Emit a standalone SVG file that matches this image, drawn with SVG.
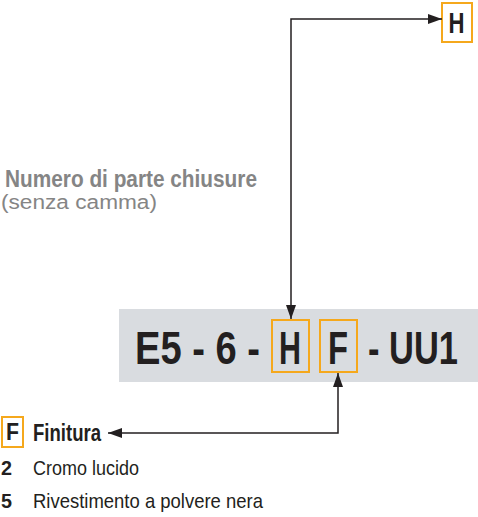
<svg xmlns="http://www.w3.org/2000/svg" width="478" height="517" viewBox="0 0 478 517">
<defs>
<style>
.t{font-family:"Liberation Sans",Arial,sans-serif;fill:#231f20}
.b{font-weight:bold}
.g{fill:#858585}
.ob{fill:none;stroke:#f5a81c;stroke-width:2}
.ln{fill:none;stroke:#231f20;stroke-width:1.5}
</style>
<marker id="ah" viewBox="0 0 14 10" refX="14" refY="5" markerWidth="14" markerHeight="10" markerUnits="userSpaceOnUse" orient="auto-start-reverse">
<path d="M0,0 L14,5 L0,10 Z" fill="#231f20"/>
</marker>
</defs>
<rect width="478" height="517" fill="#ffffff"/>
<g id="title">
<text class="t b g" x="5" y="187" font-size="23" textLength="252" lengthAdjust="spacingAndGlyphs">Numero di parte chiusure</text>
<text class="t g" x="1" y="209" font-size="20" textLength="156" lengthAdjust="spacingAndGlyphs">(senza camma)</text>
</g>
<g id="code">
<rect x="119" y="309" width="359" height="73" fill="#d9dce0"/>
<text class="t b" x="135" y="364" font-size="46" textLength="125" lengthAdjust="spacingAndGlyphs">E5 - 6 -</text>
<rect class="ob" x="272" y="320" width="37" height="52"/>
<text class="t b" x="279" y="364" font-size="46" textLength="22" lengthAdjust="spacingAndGlyphs">H</text>
<rect class="ob" x="320" y="320" width="37" height="52"/>
<text class="t b" x="328" y="364" font-size="46" textLength="20" lengthAdjust="spacingAndGlyphs">F</text>
<text class="t b" x="368" y="364" font-size="46" textLength="90" lengthAdjust="spacingAndGlyphs">- UU1</text>
</g>
<g id="h-node">
<rect class="ob" x="442" y="3" width="30" height="39"/>
<text class="t b" x="448.5" y="33" font-size="29" textLength="16" lengthAdjust="spacingAndGlyphs">H</text>
</g>
<g id="f-node">
<rect class="ob" x="2" y="417" width="21" height="30"/>
<text class="t b" x="6" y="440" font-size="24" textLength="13" lengthAdjust="spacingAndGlyphs">F</text>
<text class="t b" x="33" y="441" font-size="23" textLength="68" lengthAdjust="spacingAndGlyphs">Finitura</text>
<text class="t b" x="1" y="475" font-size="21" textLength="11" lengthAdjust="spacingAndGlyphs">2</text>
<text class="t" x="33" y="475" font-size="21" textLength="106" lengthAdjust="spacingAndGlyphs">Cromo lucido</text>
<text class="t b" x="1" y="508" font-size="21" textLength="11" lengthAdjust="spacingAndGlyphs">5</text>
<text class="t" x="33" y="508" font-size="21" textLength="230" lengthAdjust="spacingAndGlyphs">Rivestimento a polvere nera</text>
</g>
<g id="connectors">
<path class="ln" d="M442,19 H291 V319" marker-start="url(#ah)" marker-end="url(#ah)"/>
<path class="ln" d="M108,433 H338 V373" marker-start="url(#ah)" marker-end="url(#ah)"/>
</g>
</svg>
